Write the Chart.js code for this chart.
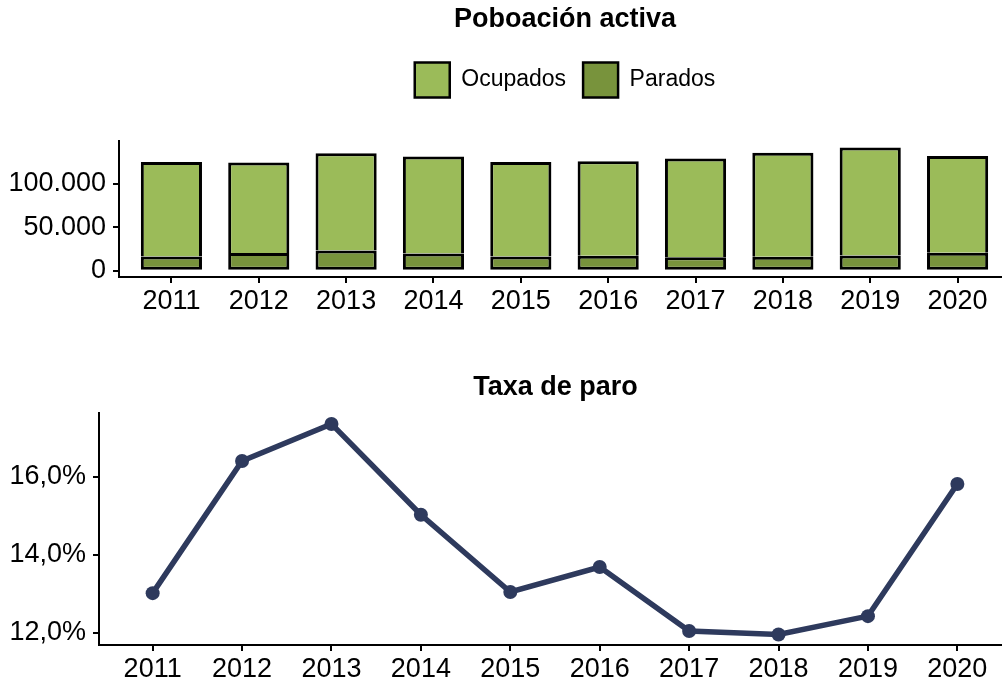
<!DOCTYPE html>
<html>
<head>
<meta charset="utf-8">
<script src="https://cdn.jsdelivr.net/npm/chart.js@4.4.1/dist/chart.umd.min.js"></script>
<style>
  html, body { margin: 0; padding: 0; background: #fff; width: 1002px; height: 685px; overflow: hidden; }
  canvas { position: absolute; left: 0; }
  #chartTop { top: 0; }
  #chartBottom { top: 340px; }
</style>
</head>
<body>
<canvas id="chartTop" width="1130" height="317" style="width:1130px;height:317px"></canvas>
<canvas id="chartBottom" width="1111" height="345" style="width:1111px;height:345px"></canvas>
<script>
const years = [2011, 2012, 2013, 2014, 2015, 2016, 2017, 2018, 2019, 2020];
const ocupados = [108900, 104050, 111900, 111800, 108950, 108750, 113700, 119550, 124150, 111200];
const parados = [16400, 20450, 23500, 19800, 16350, 17250, 15600, 16250, 17650, 20900];
const taxaParo = [13.02, 16.41, 17.36, 15.03, 13.05, 13.69, 12.05, 11.96, 12.43, 15.82];
const barTicks = [0, 50000, 100000];
const rateTicks = [12, 14, 16];

Chart.defaults.font.family = "'Liberation Sans', Arial, sans-serif";
Chart.defaults.color = "#000";

function thousands(v) {
  return String(v).replace(/\B(?=(\d{3})+(?!\d))/g, ".");
}

// eixo x común: anos como escala lineal (mesma expansión que ggplot)
function yearAxis() {
  return {
    type: "linear",
    min: 2010.4,
    max: 2020.6,
    offset: false,
    afterBuildTicks: s => { s.ticks = years.map(v => ({ value: v })); },
    ticks: { font: { size: 27 }, padding: 2, callback: v => String(v) },
    grid: { offset: false, drawOnChartArea: false, drawTicks: true, tickLength: 6, color: "#000", lineWidth: 2 },
    border: { display: true, color: "#000", width: 2 },
    afterFit: s => { s.height = 40; }
  };
}

function valueAxis(ticks, fmt, width) {
  return {
    afterBuildTicks: s => { s.ticks = ticks.map(v => ({ value: v })); },
    ticks: { font: { size: 27 }, padding: 7, callback: fmt },
    grid: { drawOnChartArea: false, drawTicks: true, tickLength: 6, color: "#000", lineWidth: 2 },
    border: { display: true, color: "#000", width: 2 },
    afterFit: s => { s.width = width; }
  };
}

// eixo invisible só para reservar sitio
function spacer(position, size) {
  return {
    type: "linear",
    position,
    display: true,
    offset: false,
    grid: { display: false },
    border: { display: false },
    ticks: { display: false },
    afterFit: s => {
      if (position === "top") s.height = size; else s.width = size;
    }
  };
}

const barStyle = {
  borderColor: "#000",
  borderSkipped: false,
  barPercentage: 0.7,
  categoryPercentage: 1
};

new Chart(document.getElementById("chartTop"), {
  type: "bar",
  data: {
    datasets: [
      Object.assign({
        label: "Parados",
        data: years.map((y, i) => ({ x: y, y: parados[i] })),
        backgroundColor: "#78933c",
        borderWidth: { top: 3, left: 3, right: 3, bottom: 3 }
      }, barStyle),
      Object.assign({
        label: "Ocupados",
        data: years.map((y, i) => ({ x: y, y: ocupados[i] })),
        backgroundColor: "#9bbb59",
        borderWidth: { top: 3, left: 3, right: 3, bottom: 0 }
      }, barStyle)
    ]
  },
  options: {
    responsive: false,
    animation: false,
    events: [],
    layout: { padding: 0 },
    plugins: {
      title: {
        display: true,
        text: "Poboación activa",
        font: { size: 27, weight: "bold" },
        color: "#000",
        padding: { top: 3, bottom: 10 }
      },
      legend: {
        position: "top",
        reverse: true,
        labels: {
          boxWidth: 35,
          boxHeight: 35,
          padding: 17,
          font: { size: 23 },
          color: "#000",
          // mesmo bordo nas dúas caixas da lenda
          generateLabels: chart => Chart.defaults.plugins.legend.labels.generateLabels(chart)
            .map(item => Object.assign(item, { lineWidth: 2.5 }))
        }
      },
      tooltip: { enabled: false }
    },
    scales: {
      x: Object.assign(yearAxis(), { stacked: true }),
      y: Object.assign(valueAxis(barTicks, v => thousands(v), 119), { stacked: true, min: -7100, max: 148900 }),
      gapTop: spacer("top", 34),
      padRight: spacer("right", 120)
    }
  }
});

new Chart(document.getElementById("chartBottom"), {
  type: "line",
  data: {
    datasets: [{
      label: "Taxa de paro",
      data: years.map((y, i) => ({ x: y, y: taxaParo[i] })),
      borderColor: "#2e3a5d",
      backgroundColor: "#2e3a5d",
      borderWidth: 5.5,
      pointRadius: 7,
      pointBorderWidth: 0,
      pointBackgroundColor: "#2e3a5d",
      tension: 0
    }]
  },
  options: {
    responsive: false,
    animation: false,
    events: [],
    layout: { padding: 0 },
    plugins: {
      title: {
        display: true,
        text: "Taxa de paro",
        font: { size: 27, weight: "bold" },
        color: "#000",
        padding: { top: 31, bottom: 10 }
      },
      legend: { display: false },
      tooltip: { enabled: false }
    },
    scales: {
      x: yearAxis(),
      y: Object.assign(valueAxis(rateTicks, v => v.toFixed(1).replace(".", ",") + "%", 99), { min: 11.69, max: 17.63 }),
      padRight: spacer("right", 100)
    }
  }
});
</script>
</body>
</html>
